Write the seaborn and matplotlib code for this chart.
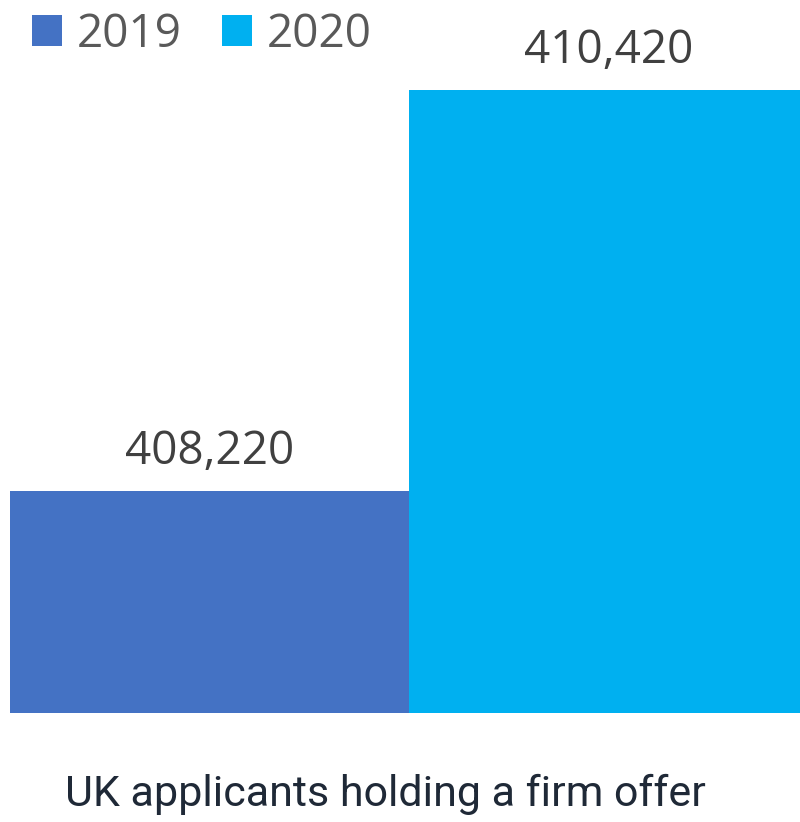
import pandas as pd
import matplotlib
matplotlib.use("Agg")
import matplotlib.pyplot as plt
import seaborn as sns
from matplotlib.patches import Patch

# data
years = ["2019", "2020"]
applicants = [408220, 410420]
category = ["UK applicants holding a firm offer", "UK applicants holding a firm offer"]
colours = ["#4472C4", "#00B0F0"]

df = pd.DataFrame({"category": category, "year": years, "value": applicants})

sns.set_theme(style="white")
plt.rcParams["font.family"] = ["Open Sans", "DejaVu Sans"]

fig = plt.figure(figsize=(8, 8.22), dpi=100)
ax = fig.add_axes([0.0125, 0.1326, 0.9875, 0.8674])

sns.barplot(data=df, x="category", y="value", hue="year", palette=colours,
            width=1.0, saturation=1, legend=False, linewidth=0, ax=ax)

ax.set_ylim(407000, 410911)
ax.set_xlim(-0.5, 0.49)

for cont in ax.containers:
    ax.bar_label(cont, labels=[f"{v:,.0f}" for v in cont.datavalues],
                 padding=11, fontsize=33, color="#404040")

ax.set_xlabel("")
ax.set_ylabel("")
ax.set_yticks([])
ax.set_xticks([])
sns.despine(ax=ax, left=True, bottom=True, top=True, right=True)

fig.text(0.482, 0.008, category[0], ha="center", va="bottom",
         fontsize=31, color="#1F2937", family=["Roboto", "DejaVu Sans"])

handles = [Patch(facecolor=c, edgecolor="none") for c in colours]
fig.legend(handles, years, loc="upper left", bbox_to_anchor=(0.0, 1.025),
           ncol=2, frameon=False, fontsize=33, labelcolor="#595959",
           handlelength=0.65, handleheight=0.65, handletextpad=0.33,
           columnspacing=0.87, borderpad=0.2)

fig.savefig("out.png", dpi=100)
